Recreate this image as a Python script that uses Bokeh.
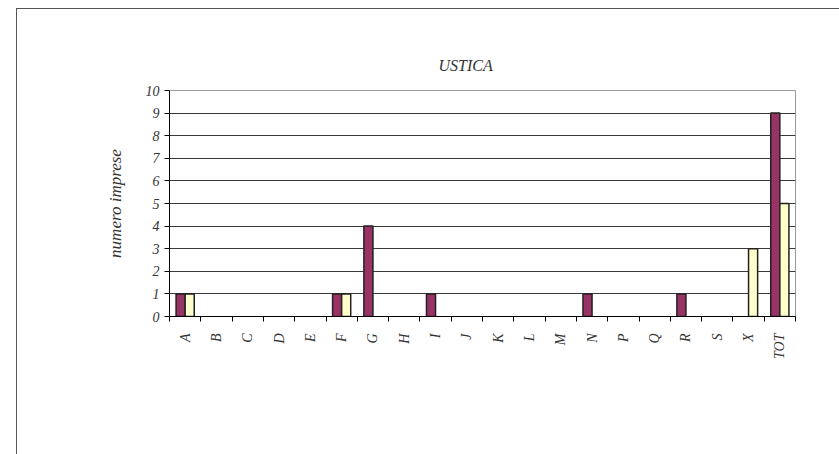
import math
from bokeh.plotting import figure
from bokeh.models import (Range1d, FixedTicker, ColumnDataSource, Legend, LegendItem, Title)
from bokeh.transform import dodge
from bokeh.embed import file_html
from bokeh.resources import INLINE

categories = ["A", "B", "C", "D", "E", "F", "G", "H", "I", "J", "K", "L", "M",
              "N", "P", "Q", "R", "S", "X", "TOT"]
cessate = [1, 0, 0, 0, 0, 1, 4, 0, 1, 0, 0, 0, 0, 1, 0, 0, 1, 0, 0, 9]
iscritte = [1, 0, 0, 0, 0, 1, 0, 0, 0, 0, 0, 0, 0, 0, 0, 0, 0, 0, 3, 5]
y_ticks = list(range(0, 11))
title_text = "USTICA"
y_label = "numero imprese"
series_names = ["imprese cessate", "imprese iscritte"]

FONT = "Liberation Serif"
TXT = "#333333"
C1 = "#993366"
C2 = "#FFFFCC"

n = len(categories)
centers = [i + 0.5 for i in range(n)]

p = figure(frame_width=626, frame_height=226, output_backend="svg", toolbar_location=None,
           x_range=Range1d(0, n), y_range=Range1d(0, 10),
           min_border_left=152, min_border_right=44, min_border_top=81,
           min_border_bottom=120)
p.styles = {"margin-left": "16px", "margin-top": "8px",
            "border-left": "1px solid #555555", "border-top": "1px solid #555555"}
p.outline_line_color = "#999999"
p.background_fill_color = "white"
p.border_fill_color = "white"

p.title = Title(text=title_text, align="left", offset=269, standoff=33,
                text_font=FONT, text_font_style="italic", text_font_size="16px",
                text_color=TXT)

src1 = ColumnDataSource(dict(x=[c for c, v in zip(centers, cessate) if v],
                             top=[v for v in cessate if v]))
src2 = ColumnDataSource(dict(x=[c for c, v in zip(centers, iscritte) if v],
                             top=[v for v in iscritte if v]))
bw = 0.29
r1 = p.vbar(x=dodge("x", -bw / 2), top="top", width=bw, source=src1,
            fill_color=C1, line_color="#222222", line_width=1.5)
r2 = p.vbar(x=dodge("x", bw / 2), top="top", width=bw, source=src2,
            fill_color=C2, line_color="#222222", line_width=1.5)

# y axis
p.yaxis.ticker = FixedTicker(ticks=y_ticks)
p.yaxis.major_tick_out = 5
p.yaxis.major_tick_in = 0
p.yaxis.minor_tick_line_color = None
p.yaxis.axis_line_color = "black"
p.yaxis.major_tick_line_color = "black"
p.yaxis.major_label_text_font = FONT
p.yaxis.major_label_text_font_style = "italic"
p.yaxis.major_label_text_font_size = "14px"
p.yaxis.major_label_text_color = TXT
p.yaxis.major_label_standoff = 5
p.yaxis.axis_label = y_label
p.yaxis.axis_label_standoff = 18
p.yaxis.axis_label_text_font = FONT
p.yaxis.axis_label_text_font_style = "italic"
p.yaxis.axis_label_text_font_size = "17px"
p.yaxis.axis_label_text_color = TXT

# x axis: labels at centers, ticks at boundaries
p.xaxis.ticker = FixedTicker(ticks=centers, minor_ticks=list(range(n + 1)))
p.xaxis.major_label_overrides = {c: lab for c, lab in zip(centers, categories)}
p.xaxis.major_tick_out = 0
p.xaxis.major_tick_in = 0
p.xaxis.minor_tick_out = 5
p.xaxis.minor_tick_in = 0
p.xaxis.minor_tick_line_color = "black"
p.xaxis.axis_line_color = "black"
p.xaxis.major_label_orientation = math.pi / 2
p.xaxis.major_label_text_font = FONT
p.xaxis.major_label_text_font_style = "italic"
p.xaxis.major_label_text_font_size = "14px"
p.xaxis.major_label_text_color = TXT
p.xaxis.major_label_standoff = 12

p.xgrid.grid_line_color = None
p.ygrid.ticker = FixedTicker(ticks=y_ticks)
p.ygrid.grid_line_color = "#3a3a3a"
p.ygrid.grid_line_width = 1

legend = Legend(items=[LegendItem(label=series_names[0], renderers=[r1]),
                       LegendItem(label=series_names[1], renderers=[r2])],
                orientation="horizontal", location="top_center",
                glyph_width=10, glyph_height=10, label_standoff=10, spacing=62,
                padding=6, margin=25,
                border_line_color="#555555", border_line_width=1.2,
                background_fill_alpha=0,
                label_text_font=FONT, label_text_font_style="italic",
                label_text_font_size="17px", label_text_color=TXT)
p.add_layout(legend, "below")

open("out.html", "w").write(file_html(p, INLINE))
